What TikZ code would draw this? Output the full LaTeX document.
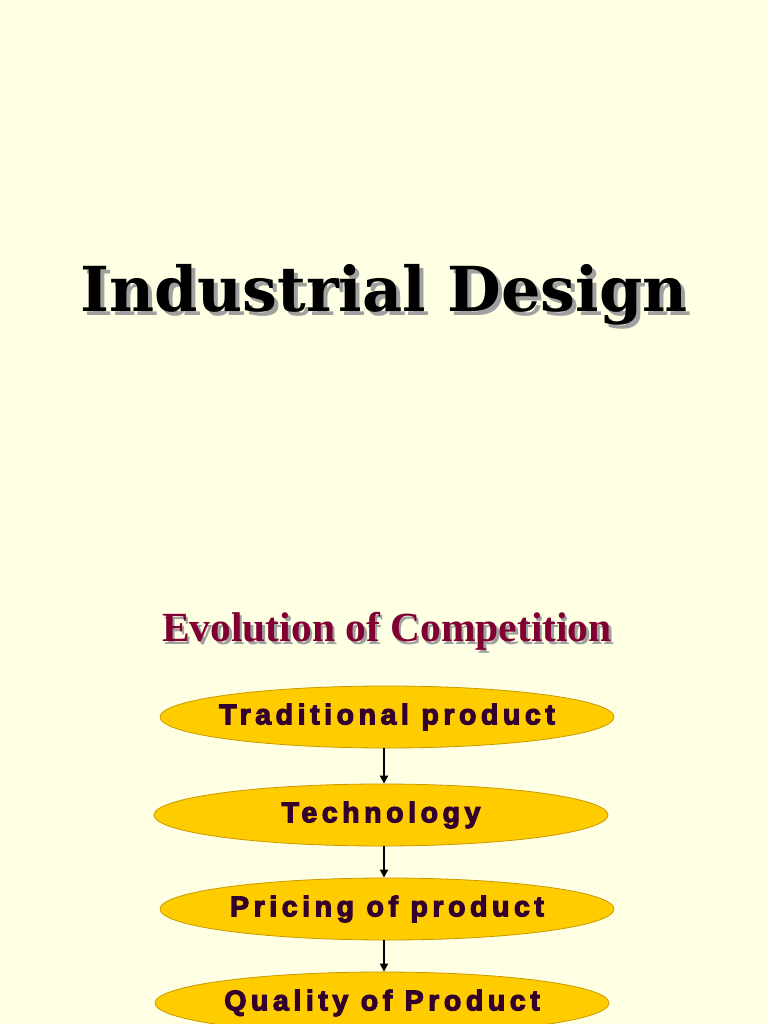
\documentclass[tikz,border=0pt]{standalone}
\usepackage{fontspec}
\setmainfont{Liberation Serif}
\newfontfamily\slabfont{DejaVu Serif}
\newfontfamily\boxfont[LetterSpace=16,FakeBold=4]{Liberation Sans}
\usetikzlibrary{shapes.geometric,arrows.meta}
\definecolor{bg}{HTML}{FFFFE3}
\definecolor{ellfill}{HTML}{FFCC00}
\definecolor{elldraw}{HTML}{C89A00}
\definecolor{maroonc}{HTML}{800032}
\definecolor{txtc}{HTML}{33002E}
\definecolor{shadowc}{HTML}{A0A0A0}
\newcommand{\shadowtext}[3]{\makebox[0pt][l]{\hspace{#1}\raisebox{-#1}{\color{shadowc}#3}}{\color{#2}#3}}
\newcommand{\stagetext}[1]{\makebox[0pt]{\raisebox{-5pt}{#1}}}
\tikzset{
  stage/.style={ellipse, fill=ellfill, draw=elldraw, line width=0.8pt,
    minimum width=454pt, minimum height=62pt, inner sep=0pt,
    text=txtc, font=\boxfont\bfseries\fontsize{28.5}{30}\selectfont},
  flow/.style={-{Triangle[length=8pt,width=8pt]}, line width=1.8pt, black},
  bigtitle/.style={font=\slabfont\bfseries\fontsize{62}{68}\selectfont, inner sep=0pt},
  subtitle/.style={font=\bfseries\fontsize{41.5}{44}\selectfont, inner sep=0pt}
}
\begin{document}
\begin{tikzpicture}[x=1pt,y=-1pt]
\fill[bg] (0,0) rectangle (768,1024);
\useasboundingbox (0,0) rectangle (768,1024);
% titles with shadows
\node[bigtitle] (title) at (384,297) {\shadowtext{4pt}{black}{Industrial Design}};
\node[subtitle] (sub) at (387,633) {\shadowtext{2.5pt}{maroonc}{Evolution of Competition}};
% stages
\node[stage] (s1) at (387,717) {\stagetext{Traditional product}};
\node[stage] (s2) at (381,815) {\stagetext{Technology}};
\node[stage] (s3) at (387,909) {\stagetext{Pricing of product}};
\node[stage] (s4) at (382,1003) {\stagetext{Quality of Product}};
% arrows
\draw[flow] (s1.south -| 384,0) -- (s2.north -| 384,0);
\draw[flow] (s2.south -| 384,0) -- (s3.north -| 384,0);
\draw[flow] (s3.south -| 384,0) -- (s4.north -| 384,0);
\end{tikzpicture}
\end{document}
